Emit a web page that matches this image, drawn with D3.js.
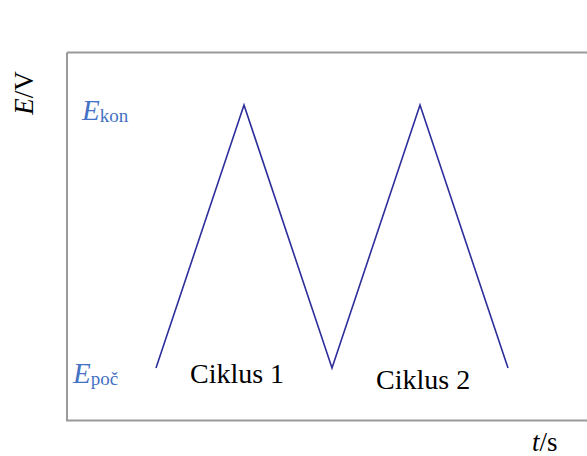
<!DOCTYPE html>
<html><head><meta charset="utf-8">
<script src="https://cdn.jsdelivr.net/npm/d3@7"></script>
<style>body{margin:0;background:#fff}svg{display:block}</style>
</head><body>
<script>
const times = [1, 2, 3, 4, 5];
const potentials = [0, 1, 0, 1, 0];
const cycleLabels = ["Ciklus 1", "Ciklus 2"];
const cycleLabelPos = [{t: 1.386, e: -0.057}, {t: 3.5, e: -0.08}];

const W = 587, H = 456;
const SERIF = '"Liberation Serif"';
const svg = d3.select("body").append("svg").attr("width", W).attr("height", H);
const x = d3.scaleLinear().domain([1, 5]).range([156, 508]);
const y = d3.scaleLinear().domain([0, 1]).range([368, 105]);

// frame (right edge off-canvas)
svg.append("path")
  .attr("d", `M${x(0)-1},${y(1.2)} H${W+10} M${x(0)-1},${y(1.2)} V${y(-0.2)} H${W+10}`)
  .attr("fill", "none").attr("stroke", "#9a9a9a").attr("stroke-width", 2);

const line = d3.line().x((d, i) => x(times[i])).y(d => y(d));
svg.append("path").datum(potentials).attr("d", line)
  .attr("fill", "none").attr("stroke", "#2d2d9c").attr("stroke-width", 1.6);

// E/V rotated
const ev = svg.append("text").attr("transform", "translate(33,93) rotate(-90)")
  .attr("text-anchor", "middle").style("font-family", SERIF).style("font-size", "27px").attr("fill", "#000");
ev.append("tspan").style("font-style", "italic").text("E");
ev.append("tspan").text("/V");

function sublabel(px, py, sub) {
  const t = svg.append("text").attr("x", px).attr("y", py).attr("fill", "#4472c4").style("font-family", SERIF);
  t.append("tspan").style("font-style", "italic").style("font-size", "29px").text("E");
  t.append("tspan").style("font-size", "19px").attr("dy", 2).text(sub);
}
sublabel(82, 120, "kon");
sublabel(73, 383, "poč");

svg.selectAll(".cyc").data(cycleLabels).enter().append("text")
  .attr("x", (d, i) => x(cycleLabelPos[i].t)).attr("y", (d, i) => y(cycleLabelPos[i].e))
  .style("font-family", SERIF).style("font-size", "28px").attr("fill", "#000").text(d => d);

const ts = svg.append("text").attr("x", 532).attr("y", 451).style("font-family", SERIF).style("font-size", "27px").attr("fill", "#000");
ts.append("tspan").style("font-style", "italic").text("t");
ts.append("tspan").text("/s");
</script>
</body></html>
